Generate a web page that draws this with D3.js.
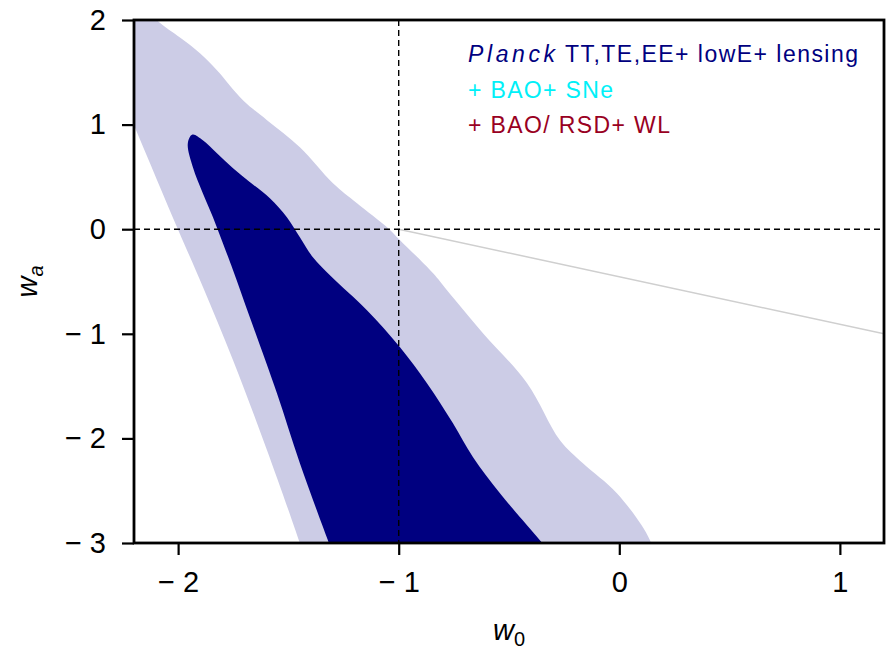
<!DOCTYPE html>
<html>
<head>
<meta charset="utf-8">
<script src="https://cdn.jsdelivr.net/npm/d3@7"></script>
<style>
  html, body { margin: 0; padding: 0; background: #fff; }
  svg { display: block; font-family: "Liberation Sans", Arial, sans-serif; }
</style>
</head>
<body>
<svg id="chart" width="889" height="650"></svg>
<script>
// w0–wa constraints: 68% and 95% credible regions (contour outlines in data units)
const xTicks = [-2, -1, 0, 1];
const yTicks = [-3, -2, -1, 0, 1, 2];

// 95% region outline, traced clockwise (extends past the plotting window, which clips it)
const outerW0 = [-2.50, -2.20, -2.096, -1.99, -1.901, -1.824, -1.706, -1.597, -1.448, -1.298, -1.189, -1.053, -0.994, -0.844, -0.781, -0.618, -0.418, -0.269, -0.165, -0.011, 0.139, 0.17,
                 -1.41, -1.448, -1.597, -1.751, -1.887, -2.001, -2.200, -2.40, -2.55];
const outerWa = [2.40, 2.30, 2.00, 1.83, 1.683, 1.520, 1.233, 1.042, 0.784, 0.440, 0.249, 0.019, -0.105, -0.421, -0.583, -0.994, -1.472, -2.017, -2.237, -2.524, -2.973, -3.25,
                 -3.25, -3.002, -2.113, -1.252, -0.554, 0.000, 0.994, 2.00, 2.40];

// 68% region outline, from the upper tip down the right edge and back up the left edge
const innerW0 = [-1.935, -1.888, -1.824, -1.751, -1.674, -1.584, -1.507, -1.448, -1.389, -1.307, -1.144, -0.994, -0.872, -0.754, -0.663, -0.541, -0.360, -0.25,
                 -1.27, -1.321, -1.448, -1.552, -1.675, -1.751, -1.797, -1.842, -1.888, -1.933, -1.956];
const innerWa = [0.905, 0.851, 0.727, 0.583, 0.449, 0.296, 0.115, -0.076, -0.268, -0.449, -0.774, -1.128, -1.472, -1.855, -2.180, -2.524, -2.973, -3.25,
                 -3.25, -2.973, -2.237, -1.568, -0.841, -0.392, -0.134, 0.115, 0.344, 0.593, 0.822];

// Reference line through (w0, wa) = (-1, 0)
const lineW0 = [-1, 1.2];
const lineWa = [0, -1];

const legendLines = [
  { italic: "Planck", text: "TT,TE,EE+ lowE+ lensing", color: "#000080" },
  { italic: "", text: "+ BAO+ SNe", color: "#00f0f8" },
  { italic: "", text: "+ BAO/ RSD+ WL", color: "#990022" }
];

const svg = d3.select("#chart");
const margin = { left: 134, top: 20, right: 5, bottom: 107 };
const W = 889 - margin.left - margin.right;
const H = 650 - margin.top - margin.bottom;

const x = d3.scaleLinear().domain([-2.2, 1.2]).range([0, W]);
const y = d3.scaleLinear().domain([-3, 2]).range([H, 0]);

const g = svg.append("g").attr("transform", `translate(${margin.left},${margin.top})`);

g.append("clipPath").attr("id", "plotclip")
  .append("rect").attr("width", W).attr("height", H);

const plot = g.append("g").attr("clip-path", "url(#plotclip)");

const outline = d3.line()
  .x(d => x(d[0])).y(d => y(d[1]))
  .curve(d3.curveCatmullRomClosed.alpha(0.5));

const outer = outerW0.map((v, i) => [v, outerWa[i]]);
const inner = innerW0.map((v, i) => [v, innerWa[i]]);

plot.append("path").attr("d", outline(outer)).attr("fill", "#ccccE6");
plot.append("path").attr("d", outline(inner)).attr("fill", "#000080");

plot.append("line")
  .attr("x1", x(lineW0[0])).attr("y1", y(lineWa[0]))
  .attr("x2", x(lineW0[1])).attr("y2", y(lineWa[1]))
  .attr("stroke", "#cfcfcf").attr("stroke-width", 1.5);

// Dashed guides at w0 = -1 and wa = 0
plot.append("line")
  .attr("x1", x(-1)).attr("x2", x(-1)).attr("y1", 0).attr("y2", H)
  .attr("stroke", "#000").attr("stroke-width", 1.4).attr("stroke-dasharray", "6,4");
plot.append("line")
  .attr("x1", 0).attr("x2", W).attr("y1", y(0)).attr("y2", y(0))
  .attr("stroke", "#000").attr("stroke-width", 1.4).attr("stroke-dasharray", "6,4");

// Axes
const fmt = d => (d < 0 ? "\u2212 " + Math.abs(d) : String(d));

const xAxis = g.append("g").attr("transform", `translate(0,${H})`)
  .call(d3.axisBottom(x).tickValues(xTicks).tickFormat(fmt).tickSize(12).tickPadding(16));
const yAxis = g.append("g")
  .call(d3.axisLeft(y).tickValues(yTicks).tickFormat(fmt).tickSize(12).tickPadding(16));

[xAxis, yAxis].forEach(a => {
  a.select(".domain").remove();
  a.selectAll(".tick line").attr("stroke", "#000").attr("stroke-width", 2.2);
  a.selectAll(".tick text")
    .attr("fill", "#000")
    .style("font-family", "'Liberation Sans', Arial, sans-serif")
    .style("font-size", "29px");
});

// Frame
g.append("rect").attr("width", W).attr("height", H)
  .attr("fill", "none").attr("stroke", "#000").attr("stroke-width", 2.8);

// Axis titles
const xt = svg.append("text")
  .attr("x", margin.left + W / 2).attr("y", 640)
  .attr("text-anchor", "middle").style("font-size", "29px").attr("fill", "#000");
xt.append("tspan").style("font-style", "italic").text("w");
xt.append("tspan").attr("dy", 6).style("font-size", "20px").text("0");

const yt = svg.append("text")
  .attr("transform", `translate(37,${margin.top + H / 2}) rotate(-90)`)
  .attr("text-anchor", "middle").style("font-size", "29px").attr("fill", "#000");
yt.append("tspan").style("font-style", "italic").text("w");
yt.append("tspan").attr("dy", 6).style("font-size", "20px").style("font-style", "italic").text("a");

// Legend (widths set to the spread-out lettering of the key)
const legendWidths = [[87, 293], [145], [202]];
const legend = svg.append("g").style("font-size", "23px");
legendLines.forEach((l, i) => {
  const yy = 62 + i * 35.5;
  let x0 = 468;
  if (l.italic) {
    legend.append("text")
      .attr("x", x0).attr("y", yy).attr("fill", l.color)
      .style("font-style", "italic")
      .attr("textLength", legendWidths[i][0]).attr("lengthAdjust", "spacing")
      .text(l.italic);
    x0 = 565;
  }
  legend.append("text")
    .attr("x", x0).attr("y", yy).attr("fill", l.color)
    .attr("textLength", legendWidths[i][legendWidths[i].length - 1]).attr("lengthAdjust", "spacing")
    .text(l.text);
});
</script>
</body>
</html>
